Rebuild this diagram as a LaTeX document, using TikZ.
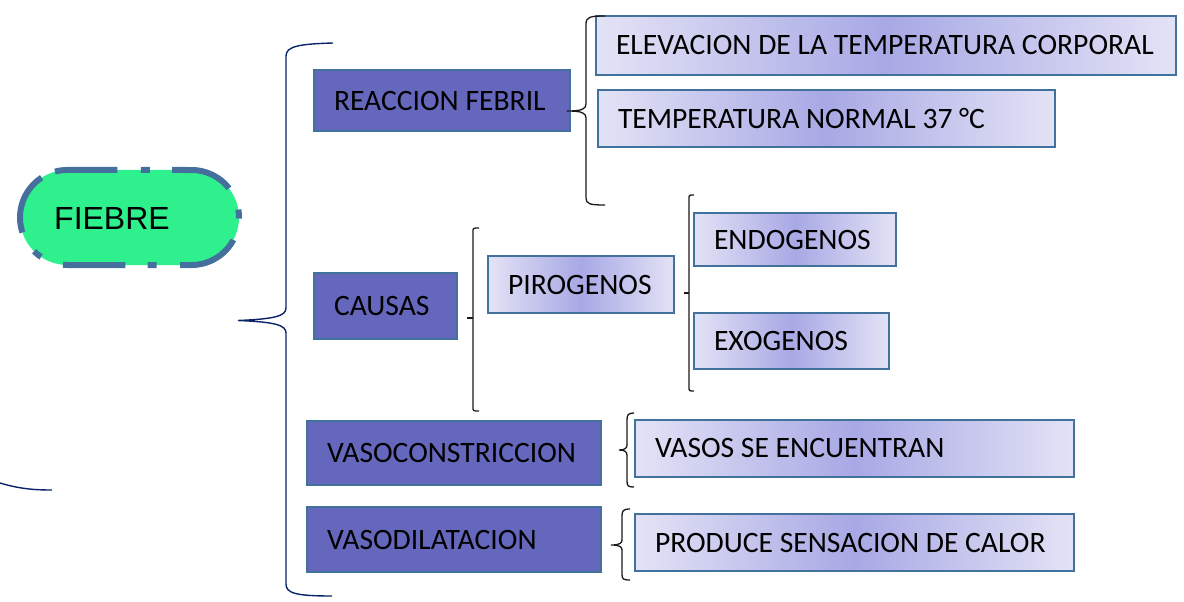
\documentclass[tikz,border=0pt]{standalone}
\usepackage{fontspec}
\newfontfamily\carl{Carlito}
\newfontfamily\lsans{Liberation Sans}
\definecolor{pillgreen}{HTML}{2EF08C}
\definecolor{pilledge}{HTML}{45709D}
\definecolor{darkfill}{HTML}{6567BD}
\definecolor{boxedge}{HTML}{41719C}
\definecolor{liteedge}{HTML}{E3E3F6}
\definecolor{litemid}{HTML}{A8A8E5}
\definecolor{navy}{HTML}{0B2468}
\definecolor{brcol}{HTML}{1A1A1A}
\newcommand\bxt[2]{\makebox[#1pt][l]{#2}}
\begin{document}
\begin{tikzpicture}[x=1pt,y=-1pt,
  boxbase/.style={draw=boxedge, line width=2.5pt, anchor=north west, inner xsep=20pt, inner ysep=0pt,
    outer sep=0pt, font=\carl\fontsize{29.6}{32}\selectfont},
  darkbox/.style={boxbase, fill=darkfill},
  litebox/.style={boxbase, left color=liteedge, right color=liteedge, middle color=litemid},
  brc/.style={draw=brcol, line width=1.3pt},
  bigbrc/.style={draw=navy, line width=1.4pt}]
\useasboundingbox (0,0) rectangle (1184,602);

% central pill
\draw[fill=pillgreen, draw=pilledge, line width=6pt,
  dash pattern=on 62.5pt off 23.5pt on 9pt off 22.3pt]
  (55,171.6) arc[start angle=105, end angle=90, radius=47.5pt] -- (191.5,170)
  arc[start angle=90, end angle=-90, radius=47.5pt] -- (67.5,265)
  arc[start angle=270, end angle=105, radius=47.5pt] -- cycle;
\node[font=\lsans\fontsize{32}{36}\selectfont, anchor=west, inner sep=0pt] (fiebre) at (54,218) {FIEBRE};

% boxes
\node[darkbox, minimum height=61pt] (rf) at (314,70) {\bxt{216}{REACCION FEBRIL}};
\node[litebox, minimum height=59pt] (elev) at (596,16) {\bxt{540}{ELEVACION DE LA TEMPERATURA CORPORAL}};
\node[litebox, minimum height=57pt] (tnorm) at (598,90) {\bxt{417}{TEMPERATURA NORMAL 37 °C}};
\node[darkbox, minimum height=66pt] (caus) at (314,273) {\bxt{103}{CAUSAS}};
\node[litebox, minimum height=57pt] (piro) at (488,256) {\bxt{146}{PIROGENOS}};
\node[litebox, minimum height=53pt] (endo) at (694,213) {\bxt{162}{ENDOGENOS}};
\node[litebox, minimum height=56pt] (exo) at (694,313) {\bxt{155}{EXOGENOS}};
\node[darkbox, minimum height=64pt] (vcon) at (307,421) {\bxt{254}{VASOCONSTRICCION}};
\node[litebox, minimum height=57pt] (vasos) at (635,420) {\bxt{399}{VASOS SE ENCUENTRAN}};
\node[darkbox, minimum height=65pt] (vdil) at (307,507) {\bxt{254}{VASODILATACION}};
\node[litebox, minimum height=57pt] (prod) at (635,514) {\bxt{399}{PRODUCE SENSACION DE CALOR}};

% big brace
\draw[bigbrc] (333,43) .. controls (300,44) and (286,46) .. (286,56) -- (286,308)
  .. controls (286,316) and (275,319) .. (238,320.5)
  .. controls (275,322) and (286,325) .. (286,333) -- (286,584)
  .. controls (286,593) and (295,596) .. (332,596);
\draw[bigbrc] (0,483) .. controls (20,489) and (35,490) .. (52,490);

% REACCION FEBRIL brace
\draw[brc] (605,16) .. controls (590,16) and (586,17) .. (586,24) -- (586,104)
  .. controls (586,109) and (582,111) .. (567,111)
  .. controls (582,111) and (586,113) .. (586,118) -- (586,198)
  .. controls (586,204) and (590,205) .. (605,205);
% CAUSAS brace
\draw[brc] (479,228) .. controls (473,228) .. (473,232) -- (473,407) .. controls (473,411) .. (479,411);
\draw[brc] (467,318) -- (473,318);
% PIROGENOS brace
\draw[brc] (694,195) .. controls (689,195) .. (689,199) -- (689,387) .. controls (689,391) .. (694,391);
\draw[brc] (684,293) -- (689,293);
% VASOCONSTRICCION brace
\draw[brc] (634,413) .. controls (628,413) and (627,415) .. (627,420) -- (627,445)
  .. controls (627,448) and (625,450) .. (619,450)
  .. controls (625,450) and (627,452) .. (627,455) -- (627,481)
  .. controls (627,486) and (628,487) .. (634,487);
% VASODILATACION brace
\draw[brc] (630,509) .. controls (623,509) and (622,511) .. (622,516) -- (622,540)
  .. controls (622,543) and (620,545) .. (611,545)
  .. controls (620,545) and (622,547) .. (622,550) -- (622,574)
  .. controls (622,579) and (623,580) .. (630,580);
\end{tikzpicture}
\end{document}
